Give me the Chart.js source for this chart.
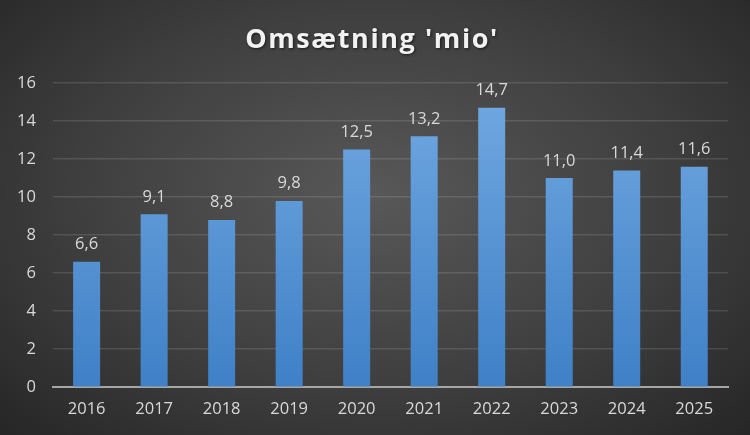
<!DOCTYPE html>
<html>
<head>
<meta charset="utf-8">
<script src="https://cdn.jsdelivr.net/npm/chart.js@4"></script>
<style>
  html, body { margin: 0; padding: 0; }
  body {
    width: 750px; height: 435px; overflow: hidden;
    background: radial-gradient(ellipse at 50% 45%, #585858 0%, #3f3f3f 55%, #262626 100%);
  }
  #wrap { width: 750px; height: 435px; }
</style>
</head>
<body>
<div id="wrap"><canvas id="omsChart"></canvas></div>
<script>
const years = ["2016", "2017", "2018", "2019", "2020", "2021", "2022", "2023", "2024", "2025"];
const revenue = [6.6, 9.1, 8.8, 9.8, 12.5, 13.2, 14.7, 11.0, 11.4, 11.6];
const yTicks = [0, 2, 4, 6, 8, 10, 12, 14, 16];
const titleText = "Omsætning 'mio'";

const fontFam = "'Open Sans', 'Noto Sans', sans-serif";

// titel tegnes selv for at få spærret skrift og skygge
const titleDraw = {
  id: "titleDraw",
  afterDraw(chart) {
    const ctx = chart.ctx;
    ctx.save();
    ctx.font = "bold 27px " + fontFam;
    ctx.letterSpacing = "1.6px";
    ctx.textAlign = "center";
    ctx.textBaseline = "middle";
    ctx.shadowColor = "rgba(0,0,0,0.6)";
    ctx.shadowBlur = 3;
    ctx.shadowOffsetX = 1;
    ctx.shadowOffsetY = 1;
    ctx.fillStyle = "#f2f2f2";
    ctx.fillText(titleText, 372, 40);
    ctx.restore();
  },
};

// etiketter over søjlerne, dansk komma
const valueLabels = {
  id: "valueLabels",
  afterDatasetsDraw(chart) {
    const ctx = chart.ctx;
    const meta = chart.getDatasetMeta(0);
    ctx.save();
    ctx.fillStyle = "#d9d9d9";
    ctx.font = "16.5px " + fontFam;
    ctx.textAlign = "center";
    ctx.textBaseline = "bottom";
    meta.data.forEach((bar, i) => {
      ctx.fillText(revenue[i].toFixed(1).replace(".", ","), bar.x, bar.y - 9);
    });
    ctx.restore();
  },
};

new Chart(document.getElementById("omsChart"), {
  type: "bar",
  data: {
    labels: years,
    datasets: [
      {
        label: "Omsætning",
        data: revenue,
        backgroundColor: (c) => {
          const area = c.chart.chartArea;
          if (!area) return "#5b9bd5";
          const g = c.chart.ctx.createLinearGradient(0, area.top, 0, area.bottom);
          g.addColorStop(0, "#72a9e2");
          g.addColorStop(1, "#3f80c6");
          return g;
        },
        borderWidth: 0,
        barPercentage: 0.4,
        categoryPercentage: 1,
      },
    ],
  },
  options: {
    responsive: true,
    maintainAspectRatio: false,
    animation: false,
    layout: { padding: { left: 0, right: 22, top: 83, bottom: 4 } },
    plugins: {
      legend: { display: false },
      tooltip: { enabled: false },
      title: { display: false },
    },
    scales: {
      x: {
        grid: { display: false, drawTicks: false },
        border: { color: "#a6a6a6", width: 2 },
        ticks: { color: "#d9d9d9", font: { family: fontFam, size: 16.5 }, padding: 12 },
      },
      y: {
        min: 0,
        max: 16,
        afterBuildTicks: (axis) => {
          axis.ticks = yTicks.map((v) => ({ value: v }));
        },
        grid: { color: "rgba(255,255,255,0.12)", lineWidth: 1.5, drawTicks: false },
        border: { display: false },
        ticks: { color: "#d9d9d9", font: { family: fontFam, size: 16.5 }, padding: 17 },
      },
    },
  },
  plugins: [valueLabels, titleDraw],
});
</script>
</body>
</html>
